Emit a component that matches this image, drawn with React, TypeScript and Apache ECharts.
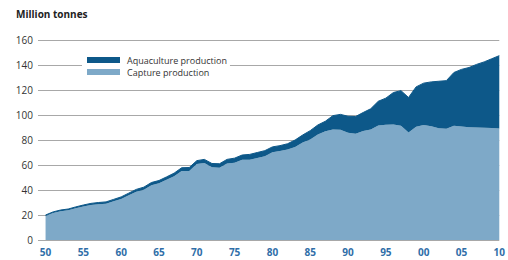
import React, { useEffect, useRef } from "react";
import * as echarts from "echarts";

const years: string[] = [
  "1950", "1951", "1952", "1953", "1954", "1955", "1956", "1957", "1958", "1959",
  "1960", "1961", "1962", "1963", "1964", "1965", "1966", "1967", "1968", "1969",
  "1970", "1971", "1972", "1973", "1974", "1975", "1976", "1977", "1978", "1979",
  "1980", "1981", "1982", "1983", "1984", "1985", "1986", "1987", "1988", "1989",
  "1990", "1991", "1992", "1993", "1994", "1995", "1996", "1997", "1998", "1999",
  "2000", "2001", "2002", "2003", "2004", "2005", "2006", "2007", "2008", "2009",
  "2010",
];

const capture: number[] = [
  19.2, 21.6, 23.0, 23.8, 25.4, 26.8, 28.0, 28.7, 29.1, 31.0,
  32.9, 35.8, 38.7, 40.3, 43.9, 45.4, 48.2, 51.1, 55.2, 55.3,
  60.8, 61.6, 58.2, 57.9, 61.2, 61.9, 64.2, 64.3, 65.7, 67.0,
  70.3, 71.2, 72.4, 74.5, 78.0, 80.5, 84.5, 87.0, 88.5, 88.3,
  85.8, 85.0, 87.2, 88.5, 91.7, 92.2, 92.5, 91.5, 86.1, 90.7,
  92.0, 91.0, 89.5, 89.0, 91.5, 90.8, 90.3, 90.0, 89.8, 89.6,
  89.2,
];

const aquaculture: number[] = [
  0.8, 0.9, 1.0, 1.0, 1.1, 1.2, 1.3, 1.3, 1.4, 1.5,
  1.6, 1.7, 1.8, 2.0, 2.1, 2.2, 2.3, 2.4, 2.6, 2.7,
  2.7, 2.9, 3.0, 3.1, 3.3, 3.6, 3.8, 4.2, 4.3, 4.5,
  4.2, 4.3, 4.6, 5.5, 6.0, 7.0, 7.5, 8.0, 11.0, 12.2,
  13.2, 13.8, 14.8, 16.5, 19.3, 21.3, 25.5, 28.0, 27.9, 31.8,
  33.5, 35.5, 37.5, 38.5, 42.5, 45.7, 47.7, 50.5, 52.7, 55.4,
  58.3,
];

// an empty leading slot so the gridlines start a little left of 1950
const padYear = "1949";

const DARK = "#0d5889";
const LIGHT = "#7ea9c8";
const FONT = "'Open Sans', 'Noto Sans', sans-serif";

export default function App() {
  const ref = useRef<HTMLDivElement>(null);
  useEffect(() => {
    if (!ref.current) return;
    const chart = echarts.init(ref.current, undefined, { renderer: "svg" });
    const cats = [padYear, ...years];
    chart.setOption({
      animation: false,
      backgroundColor: "#ffffff",
      textStyle: { fontFamily: FONT },
      grid: { left: 38, right: 4, top: 40, bottom: 20, containLabel: false },
      title: {
        text: "Million tonnes",
        left: 16,
        top: 9,
        padding: 0,
        textStyle: { fontSize: 10, fontWeight: "bold", color: "#222", fontFamily: FONT },
      },
      legend: {
        orient: "vertical",
        left: 82,
        top: 54,
        padding: [1, 3, 1, 5],
        backgroundColor: "#ffffff",
        itemWidth: 33,
        itemHeight: 6,
        itemGap: 2,
        icon: "rect",
        data: ["Aquaculture production", "Capture production"],
        textStyle: { fontSize: 9, color: "#333", lineHeight: 10, padding: [0, 0, 0, 2], fontFamily: FONT },
        z: 10,
      },
      xAxis: {
        type: "category",
        data: cats,
        boundaryGap: false,
        splitLine: { show: false },
        axisLine: { show: false },
        axisTick: { show: false },
        axisLabel: {
          interval: (_i: number, v: string) => Number(v) % 5 === 0,
          margin: 7,
          color: "#2f6ea8",
          fontSize: 10,
          fontWeight: "bold",
          fontFamily: FONT,
          formatter: (v: string) => String(Number(v) % 100).padStart(2, "0"),
        },
      },
      yAxis: {
        type: "value",
        min: 0,
        max: 160,
        interval: 20,
        axisLine: { show: false },
        axisTick: { show: false },
        splitLine: { show: true, lineStyle: { color: "#a8a8a8", width: 1 } },
        axisLabel: { margin: 5, color: "#333", fontSize: 10, fontFamily: FONT },
      },
      series: [
        {
          name: "Capture production",
          type: "line",
          stack: "total",
          symbol: "none",
          data: [null, ...capture],
          lineStyle: { width: 0 },
          itemStyle: { color: LIGHT },
          areaStyle: { color: LIGHT, opacity: 1 },
          z: 2,
        },
        {
          name: "Aquaculture production",
          type: "line",
          stack: "total",
          symbol: "none",
          data: [null, ...aquaculture],
          lineStyle: { width: 1, color: DARK },
          itemStyle: { color: DARK },
          areaStyle: { color: DARK, opacity: 1 },
          z: 3,
        },
      ],
    });
    return () => chart.dispose();
  }, []);
  return <div ref={ref} style={{ width: 508, height: 260, position: "absolute", left: 0, top: 0 }} />;
}
